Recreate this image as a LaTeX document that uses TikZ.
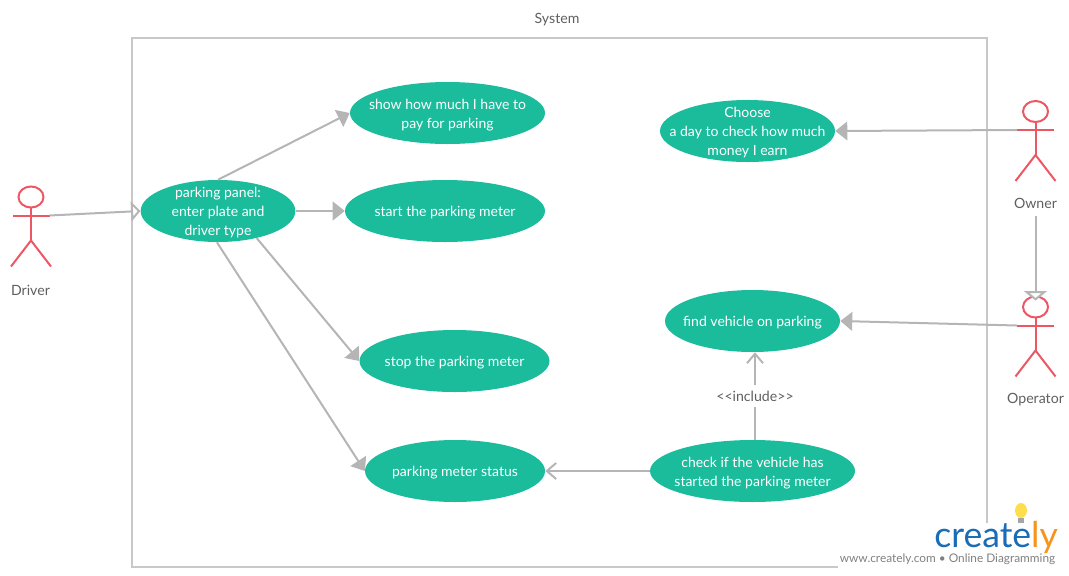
\documentclass[tikz,border=0pt]{standalone}
\usepackage{fontspec}
\setmainfont{Lato}
\usetikzlibrary{shapes.geometric,arrows.meta,positioning,calc}
\definecolor{usecase}{HTML}{1ABC9C}
\definecolor{actorred}{HTML}{EC5766}
\definecolor{linegray}{HTML}{B5B5B5}
\definecolor{framegray}{HTML}{C8C8C8}
\definecolor{labelgray}{HTML}{5F5F5F}
\tikzset{
  usecasenode/.style={ellipse,fill=usecase,text=white,inner xsep=-25pt,inner ysep=-20pt,minimum height=46.5pt,align=center,
    font=\fontsize{10.5}{14.3}\selectfont},
  actorlabel/.style={text=labelgray,font=\fontsize{10.6}{12}\selectfont,inner sep=0pt},
  link/.style={draw=linegray,line width=1.5pt},
  filledlink/.style={link,-{Triangle[length=9pt,width=14pt,fill=linegray]}},
  openlink/.style={link,-{Triangle[open,length=7pt,width=15pt,fill=white]}},
  openv/.style={link,-{Straight Barb[length=7pt,width=12pt]}},
}
\newcommand{\topline}{\rule{0pt}{10.6pt}}
% head at (#2,#3)
\newcommand{\actorfig}[3]{
  \draw[actorred,line width=1.5pt] (#2,#3) ellipse (12.5 and 10.5);
  \draw[actorred,line width=1.5pt] (#2,#3+10.5)--(#2,#3+43.5);
  \draw[actorred,line width=1.5pt] (#2-18.5,#3+18.5)--(#2+18.5,#3+18.5);
  \draw[actorred,line width=1.5pt] (#2-20,#3+69.5)--(#2,#3+43.5)--(#2+20,#3+69.5);
  \coordinate (#1right) at (#2+18.5,#3+18.5);
  \coordinate (#1left) at (#2-18.5,#3+18.5);
  \coordinate (#1top) at (#2,#3-6.5);
}
\begin{document}
\begin{tikzpicture}[x=0.75pt,y=-0.75pt]
\useasboundingbox (0,0) rectangle (1069,575);
% system frame
\draw[framegray,line width=1.5pt] (987,523)--(987,38)--(132,38)--(132,567)--(838,567);
\node[actorlabel] (systemlabel) at (557,20) {System};
% actors
\actorfig{driver}{31}{197}
\actorfig{owner}{1035.5}{111.5}
\actorfig{operator}{1035.5}{307}
\node[actorlabel] (driverlabel) at (30.5,290) {Driver};
\node[actorlabel] (ownerlabel) at (1035.5,203) {Owner};
\node[actorlabel] (operatorlabel) at (1035.5,400) {Operator};
% use cases
\node[usecasenode,minimum width=146.25pt] (show) at (447.5,113) {\topline show how much I have to\\pay for parking};
\node[usecasenode,minimum width=116pt] (panel) at (218,211) {\topline parking panel:\\enter plate and\\driver type};
\node[usecasenode,minimum width=150pt] (start) at (445,211) {\topline start the parking meter};
\node[usecasenode,minimum width=142.5pt] (stop) at (454.5,361) {\topline stop the parking meter};
\node[usecasenode,minimum width=135pt] (status) at (455,471) {\topline parking meter status};
\node[usecasenode,minimum width=131.25pt] (choose) at (747.5,131) {\topline Choose\\a day to check how much\\money I earn};
\node[usecasenode,minimum width=131.25pt] (find) at (752.5,321) {\topline find vehicle on parking};
\node[usecasenode,minimum width=153.75pt] (check) at (752.5,471) {\topline check if the vehicle has\\started the parking meter};
\node[actorlabel,inner ysep=4pt] (includelabel) at (755,396) {<{}<include>{}>};
% connectors
\draw[openlink] (driverright)--(panel.west);
\draw[filledlink] (panel.north)--(show.west);
\draw[filledlink] (panel.east)--(start.west);
\draw[filledlink] (panel.-35)--(stop.west);
\draw[filledlink] (panel.-92)--(status.west);
\draw[filledlink] (ownerleft)--(choose.east);
\draw[filledlink] (operatorleft)--(find.east);
\draw[openv] (check.west)--(status.east);
\draw[link] (includelabel.south |- check.north)--(includelabel.south);
\draw[openv] (includelabel.north)--(includelabel.north |- find.south);
\draw[link,-{Triangle[open,length=7pt,width=17pt,fill=white]}] ($(ownerlabel.south)+(0,8)$)--(operatortop);
% logo
\node[inner sep=0pt,anchor=base west,font=\fontsize{26.7}{27}\selectfont] (logo) at (934,547) {\textcolor[HTML]{1A6DB5}{create}\textcolor[HTML]{F7941E}{ly}};
\fill[yellow!70!orange!70] (1021,510.5) ellipse (6 and 7.5);
\fill[gray!70] (1018,518) rectangle (1024,523);
\node[text=gray,inner sep=0pt,font=\fontsize{8.88}{10}\selectfont] (logourl) at (947.5,559.5) {www.creately.com • Online Diagramming};
\end{tikzpicture}
\end{document}
